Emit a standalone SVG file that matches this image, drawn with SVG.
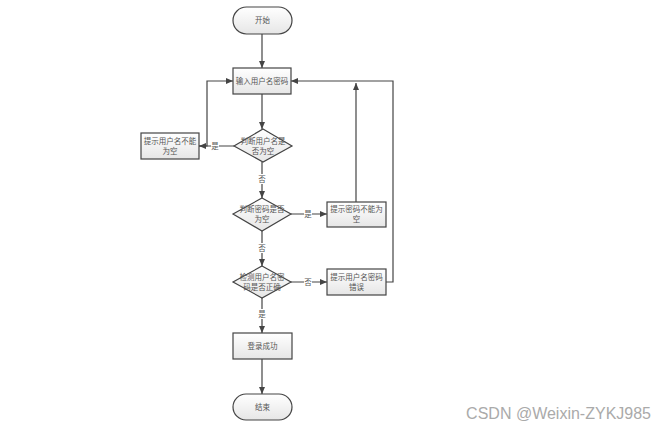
<svg xmlns="http://www.w3.org/2000/svg" width="666" height="431" viewBox="0 0 666 431">
<style>
.shape{fill:url(#g);stroke:#444;stroke-width:1.2}
.t{font-family:"Noto Sans CJK SC","Liberation Serif",serif;font-size:7.5px;fill:#555;text-anchor:middle}
.c{fill:none;stroke:#444;stroke-width:1.2}
.lb{fill:#fff}
</style>
<defs>
<linearGradient id="g" x1="0" y1="0" x2="0" y2="1"><stop offset="0" stop-color="#ffffff"/><stop offset="1" stop-color="#e6e6e6"/></linearGradient>
<marker id="a" markerWidth="8" markerHeight="8" refX="7" refY="4" orient="auto" markerUnits="userSpaceOnUse"><path d="M0,1 L7,4 L0,7 Z" fill="#444"/></marker>
</defs>
<rect width="666" height="431" fill="#fff"/>
<g id="connectors">
<path class="c" d="M262,34 V68" marker-end="url(#a)"/>
<path class="c" d="M262,94 V129" marker-end="url(#a)"/>
<path class="c" d="M234,146 H199" marker-end="url(#a)"/>
<path class="c" d="M199,146 H207 V81 H233" marker-end="url(#a)"/>
<path class="c" d="M262,162 V198" marker-end="url(#a)"/>
<path class="c" d="M291,214 H327" marker-end="url(#a)"/>
<path class="c" d="M262,231 V266" marker-end="url(#a)"/>
<path class="c" d="M291,282 H327" marker-end="url(#a)"/>
<path class="c" d="M262,298 V333" marker-end="url(#a)"/>
<path class="c" d="M262,359 V394" marker-end="url(#a)"/>
<path class="c" d="M356,202 V83" marker-end="url(#a)"/>
<path class="c" d="M386,282 H393 V81 H291" marker-end="url(#a)"/>
<rect class="lb" x="211" y="141" width="8" height="10"/><text class="t" x="215" y="149">是</text>
<rect class="lb" x="258" y="174" width="8" height="10"/><text class="t" x="262" y="182">否</text>
<rect class="lb" x="304" y="209" width="8" height="10"/><text class="t" x="308" y="217">是</text>
<rect class="lb" x="258" y="243" width="8" height="10"/><text class="t" x="262" y="251">否</text>
<rect class="lb" x="304" y="277" width="8" height="10"/><text class="t" x="308" y="285">否</text>
<rect class="lb" x="258" y="309" width="8" height="10"/><text class="t" x="262" y="317">是</text>
</g>
<g id="start"><rect class="shape" x="233" y="7" width="59" height="27" rx="13.5"/><text class="t" x="262.5" y="23">开始</text></g>
<g id="input"><rect class="shape" x="233" y="68" width="58" height="26"/><text class="t" x="262" y="84">输入用户名密码</text></g>
<g id="d1"><polygon class="shape" points="263,129 292,146 263,162 234,146"/><text class="t" x="263" y="144">判断用户名是</text><text class="t" x="263" y="154">否为空</text></g>
<g id="b1"><rect class="shape" x="141" y="133" width="58" height="26"/><text class="t" x="170" y="144">提示用户名不能</text><text class="t" x="170" y="154">为空</text></g>
<g id="d2"><polygon class="shape" points="262,198 291,214 262,231 233,214"/><text class="t" x="262" y="212">判断密码是否</text><text class="t" x="262" y="222">为空</text></g>
<g id="b2"><rect class="shape" x="327" y="202" width="59" height="25"/><text class="t" x="356.5" y="212">提示密码不能为</text><text class="t" x="356.5" y="222">空</text></g>
<g id="d3"><polygon class="shape" points="262,266 291,282 262,298 233,282"/><text class="t" x="262" y="280">检测用户名密</text><text class="t" x="262" y="290">码是否正确</text></g>
<g id="b3"><rect class="shape" x="327" y="269" width="59" height="26"/><text class="t" x="356.5" y="280">提示用户名密码</text><text class="t" x="356.5" y="290">错误</text></g>
<g id="login"><rect class="shape" x="233" y="333" width="59" height="26"/><text class="t" x="262.5" y="349">登录成功</text></g>
<g id="end"><rect class="shape" x="233" y="394" width="59" height="26" rx="13"/><text class="t" x="262.5" y="410">结束</text></g>
<text x="651" y="419" font-family="Liberation Sans, Arial, sans-serif" font-size="16" fill="#aaa" text-anchor="end">CSDN @Weixin-ZYKJ985</text>
</svg>
